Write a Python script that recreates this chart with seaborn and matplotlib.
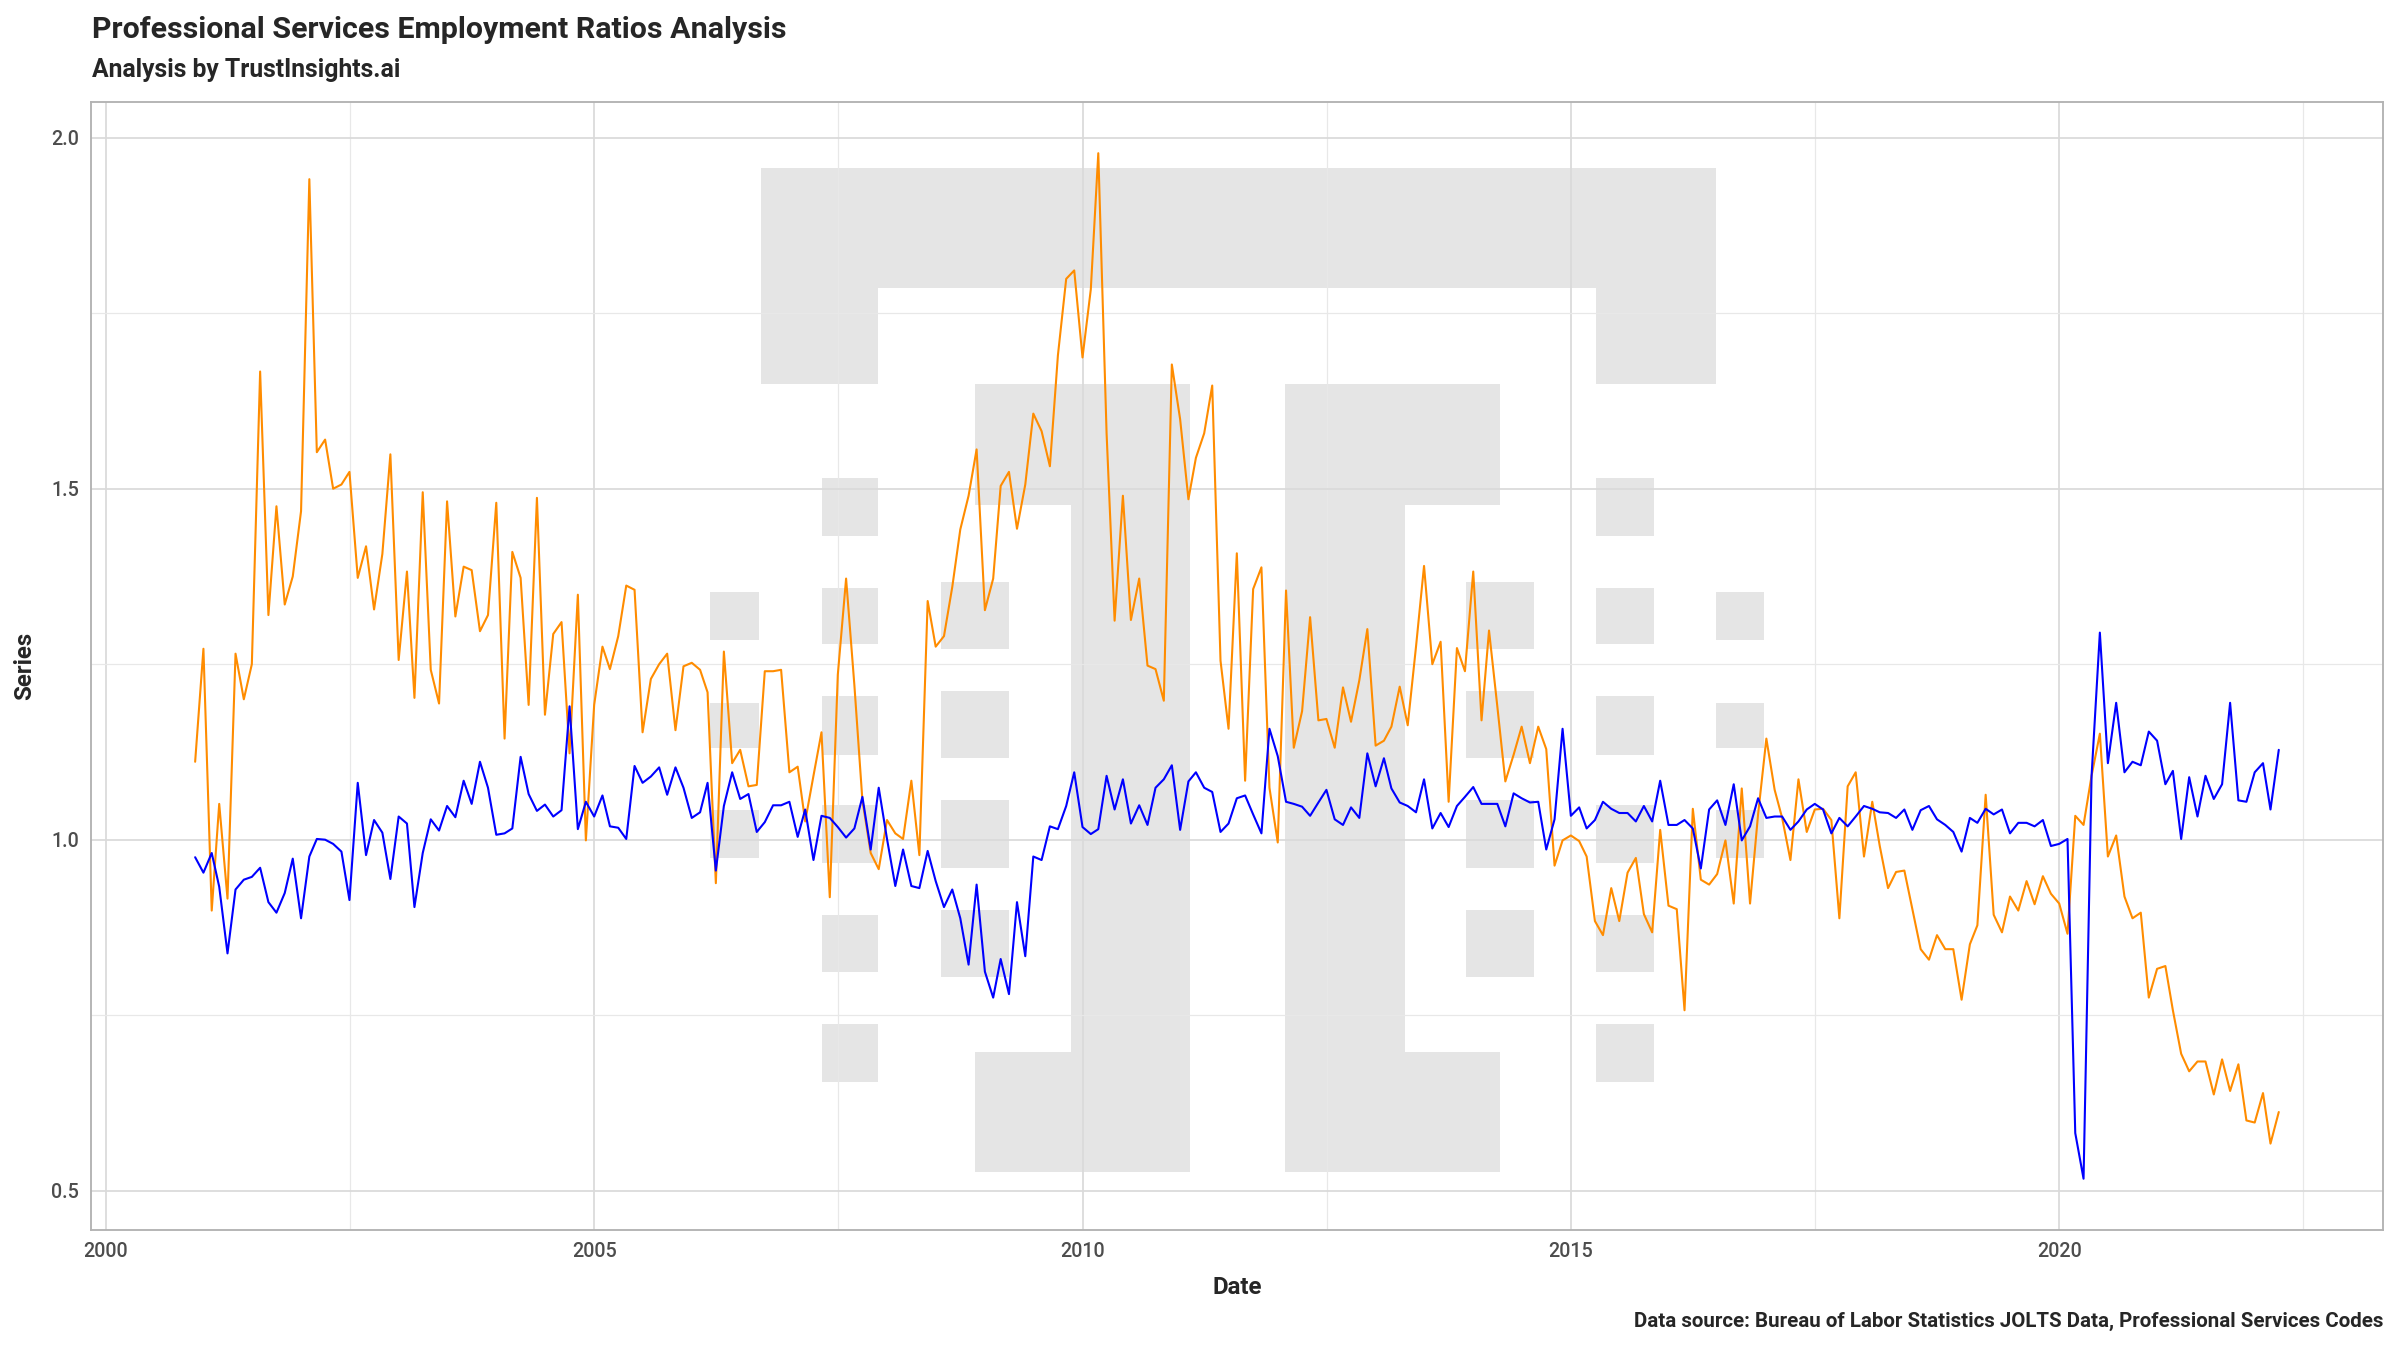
import matplotlib
matplotlib.use("Agg")
import matplotlib.pyplot as plt
import matplotlib.dates as mdates
from matplotlib.patches import Rectangle
from matplotlib.ticker import MultipleLocator, FixedLocator
import pandas as pd
import seaborn as sns

# monthly values, Dec 2000 .. Apr 2022
start_month = "2000-12-01"

orange_series = [
    1.111, 1.272, 0.899, 1.051, 0.916, 1.265, 1.200, 1.250, 1.667, 1.320, 1.475, 1.335,
    1.375, 1.468, 1.941, 1.552, 1.570, 1.500, 1.506, 1.524, 1.373, 1.418, 1.328, 1.407,
    1.549, 1.256, 1.382, 1.202, 1.495, 1.242, 1.194, 1.482, 1.318, 1.389, 1.384, 1.297,
    1.320, 1.480, 1.144, 1.410, 1.373, 1.192, 1.487, 1.178, 1.293, 1.310, 1.123, 1.349,
    0.999, 1.192, 1.275, 1.243, 1.290, 1.362, 1.356, 1.153, 1.229, 1.250, 1.265, 1.156,
    1.247, 1.252, 1.242, 1.210, 0.938, 1.268, 1.109, 1.128, 1.076, 1.078, 1.240, 1.240,
    1.242, 1.096, 1.104, 1.026, 1.091, 1.153, 0.918, 1.235, 1.372, 1.220, 1.056, 0.981,
    0.958, 1.028, 1.009, 1.001, 1.084, 0.978, 1.340, 1.275, 1.290, 1.360, 1.442, 1.490,
    1.556, 1.327, 1.372, 1.504, 1.524, 1.443, 1.506, 1.607, 1.582, 1.532, 1.690, 1.799,
    1.811, 1.687, 1.784, 1.978, 1.579, 1.312, 1.490, 1.313, 1.372, 1.248, 1.243, 1.198,
    1.677, 1.599, 1.485, 1.544, 1.579, 1.647, 1.255, 1.158, 1.408, 1.084, 1.357, 1.388,
    1.074, 0.996, 1.355, 1.131, 1.183, 1.317, 1.170, 1.172, 1.131, 1.217, 1.168, 1.227,
    1.300, 1.134, 1.141, 1.161, 1.218, 1.163, 1.275, 1.390, 1.250, 1.282, 1.054, 1.273,
    1.240, 1.382, 1.170, 1.298, 1.190, 1.083, 1.121, 1.161, 1.109, 1.161, 1.129, 0.963,
    0.999, 1.006, 0.998, 0.976, 0.884, 0.864, 0.931, 0.884, 0.953, 0.974, 0.894, 0.868,
    1.014, 0.906, 0.901, 0.757, 1.044, 0.943, 0.936, 0.951, 0.999, 0.909, 1.073, 0.909,
    1.036, 1.144, 1.071, 1.031, 0.971, 1.086, 1.011, 1.043, 1.044, 1.028, 0.888, 1.076,
    1.096, 0.976, 1.054, 0.991, 0.931, 0.954, 0.956, 0.901, 0.844, 0.829, 0.864, 0.844,
    0.844, 0.772, 0.851, 0.878, 1.064, 0.893, 0.868, 0.919, 0.899, 0.941, 0.908, 0.948,
    0.923, 0.909, 0.866, 1.034, 1.021, 1.091, 1.151, 0.976, 1.006, 0.919, 0.888, 0.896,
    0.775, 0.816, 0.820, 0.757, 0.695, 0.670, 0.684, 0.684, 0.637, 0.687, 0.642, 0.680,
    0.600, 0.597, 0.639, 0.567, 0.612,
]

blue_series = [
    0.975, 0.953, 0.981, 0.933, 0.838, 0.929, 0.943, 0.947, 0.960, 0.911, 0.896, 0.924,
    0.973, 0.888, 0.976, 1.001, 1.000, 0.994, 0.983, 0.914, 1.081, 0.978, 1.028, 1.010,
    0.944, 1.033, 1.023, 0.904, 0.981, 1.029, 1.013, 1.048, 1.032, 1.084, 1.051, 1.111,
    1.074, 1.007, 1.009, 1.016, 1.118, 1.065, 1.041, 1.050, 1.033, 1.042, 1.190, 1.015,
    1.054, 1.033, 1.063, 1.019, 1.017, 1.001, 1.105, 1.081, 1.090, 1.103, 1.064, 1.103,
    1.074, 1.031, 1.039, 1.081, 0.956, 1.048, 1.096, 1.058, 1.065, 1.011, 1.025, 1.049,
    1.049, 1.054, 1.004, 1.043, 0.971, 1.034, 1.031, 1.018, 1.003, 1.016, 1.061, 0.986,
    1.074, 1.001, 0.934, 0.986, 0.934, 0.931, 0.984, 0.941, 0.904, 0.929, 0.888, 0.822,
    0.936, 0.812, 0.775, 0.830, 0.780, 0.911, 0.834, 0.976, 0.971, 1.019, 1.015, 1.048,
    1.096, 1.018, 1.008, 1.015, 1.091, 1.043, 1.086, 1.023, 1.049, 1.021, 1.074, 1.086,
    1.106, 1.014, 1.083, 1.096, 1.074, 1.068, 1.011, 1.023, 1.059, 1.063, 1.036, 1.009,
    1.158, 1.119, 1.054, 1.051, 1.047, 1.034, 1.053, 1.071, 1.029, 1.021, 1.046, 1.031,
    1.123, 1.076, 1.116, 1.073, 1.053, 1.048, 1.039, 1.086, 1.016, 1.038, 1.018, 1.048,
    1.061, 1.075, 1.051, 1.051, 1.051, 1.019, 1.066, 1.059, 1.053, 1.054, 0.986, 1.029,
    1.158, 1.034, 1.046, 1.016, 1.028, 1.054, 1.044, 1.038, 1.038, 1.026, 1.048, 1.026,
    1.084, 1.021, 1.021, 1.028, 1.016, 0.959, 1.043, 1.056, 1.021, 1.079, 0.999, 1.019,
    1.059, 1.031, 1.033, 1.033, 1.014, 1.026, 1.043, 1.051, 1.043, 1.009, 1.031, 1.019,
    1.033, 1.048, 1.044, 1.039, 1.038, 1.031, 1.043, 1.014, 1.042, 1.048, 1.029, 1.021,
    1.011, 0.983, 1.031, 1.024, 1.044, 1.036, 1.043, 1.009, 1.024, 1.024, 1.019, 1.028,
    0.991, 0.994, 1.001, 0.582, 0.517, 1.091, 1.295, 1.109, 1.195, 1.096, 1.111, 1.106,
    1.154, 1.141, 1.079, 1.098, 1.001, 1.089, 1.033, 1.091, 1.058, 1.079, 1.195, 1.056,
    1.054, 1.096, 1.109, 1.043, 1.128,
]

series_names = ["ratio_a", "ratio_b"]
series_colors = ["#FF8C00", "#0000FF"]

title = "Professional Services Employment Ratios Analysis"
subtitle = "Analysis by TrustInsights.ai"
caption = "Data source: Bureau of Labor Statistics JOLTS Data, Professional Services Codes"

dates = pd.date_range(start_month, periods=len(orange_series), freq="MS")
df = pd.concat([
    pd.DataFrame({"Date": dates, "Series": orange_series, "which": series_names[0]}),
    pd.DataFrame({"Date": dates, "Series": blue_series, "which": series_names[1]}),
])

sns.set_theme(style="white")
plt.rcParams["font.family"] = ["Roboto", "DejaVu Sans"]

fig = plt.figure(figsize=(16, 9), dpi=150)
ax = fig.add_axes([0.0379, 0.0889, 0.9550, 0.8356])

# TrustInsights logo watermark, drawn in axes fraction (pixel boxes of a 1568x882 frame)
logo_boxes = [
    (497, 1121, 110, 188), (497, 574, 188, 251), (1043, 1121, 188, 251),
    (637, 777.5, 251, 330), (700, 777.5, 330, 687), (637, 777.5, 687, 766),
    (839.5, 980, 251, 330), (839.5, 918, 330, 687), (839.5, 980, 687, 766),
]
for y0, y1 in [(312, 350), (384, 421), (455, 493), (526, 564), (598, 635), (669, 707)]:
    logo_boxes += [(537, 574, y0, y1), (1043, 1081, y0, y1)]
for y0, y1 in [(380, 424), (451.5, 495), (523, 567), (594.5, 638)]:
    logo_boxes += [(615, 659, y0, y1), (958, 1002, y0, y1)]
for y0, y1 in [(387, 418), (459, 489), (529, 560.6)]:
    logo_boxes += [(464, 496, y0, y1), (1121, 1152.5, y0, y1)]
for x0, x1, y0, y1 in logo_boxes:
    fx0 = (x0 - 59.5) / 1497.5
    fx1 = (x1 - 59.5) / 1497.5
    fy0 = (803.6 - y1) / 737
    fy1 = (803.6 - y0) / 737
    ax.add_patch(Rectangle((fx0, fy0), fx1 - fx0, fy1 - fy0, transform=ax.transAxes,
                           facecolor="#E5E5E5", edgecolor="none", zorder=0.1))

sns.lineplot(data=df, x="Date", y="Series", hue="which", palette=series_colors,
             linewidth=1.0, legend=False, ax=ax, zorder=2)

ax.set_axisbelow(True)
ax.xaxis.set_major_locator(mdates.YearLocator(5))
ax.xaxis.set_major_formatter(mdates.DateFormatter("%Y"))
ax.xaxis.set_minor_locator(FixedLocator(
    [mdates.date2num(pd.Timestamp(f"{y}-07-02")) for y in range(1997, 2027, 5)]))
ax.yaxis.set_major_locator(MultipleLocator(0.5))
ax.yaxis.set_minor_locator(MultipleLocator(0.25))
ax.grid(which="major", color="#DADADA", linewidth=0.85)
ax.grid(which="minor", color="#E8E8E8", linewidth=0.6)
ax.margins(x=0.05, y=0.05)

for sp in ax.spines.values():
    sp.set_visible(True)
    sp.set_color("#B3B3B3")
    sp.set_linewidth(0.9)

ax.tick_params(which="major", length=3.3, width=0.8, color="#B3B3B3",
               labelcolor="#4D4D4D", labelsize=9.5, pad=2.5)
ax.tick_params(which="minor", length=0)
for lab in ax.get_xticklabels() + ax.get_yticklabels():
    lab.set_fontweight("medium")

ax.set_xlabel("Date", fontsize=11.5, fontweight="bold", labelpad=7)
ax.set_ylabel("Series", fontsize=11.5, fontweight="bold", labelpad=7)

fig.text(0.0383, 0.9719, title, fontsize=14.6, fontweight="bold", va="baseline", ha="left")
fig.text(0.0383, 0.9430, subtitle, fontsize=11.9, fontweight="bold", va="baseline", ha="left")
fig.text(0.9929, 0.017, caption, fontsize=9.85, fontweight="bold", va="baseline", ha="right")

fig.savefig("out.png", dpi=150)
